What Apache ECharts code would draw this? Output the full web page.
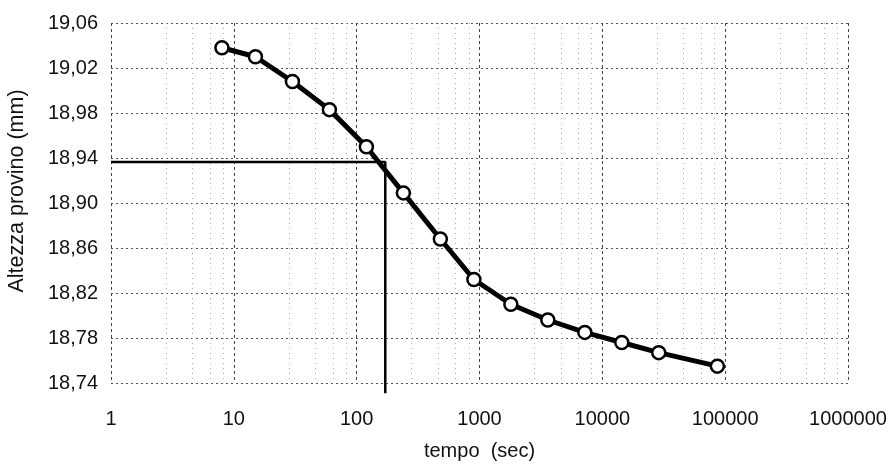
<!DOCTYPE html>
<html><head><meta charset="utf-8">
<script src="https://cdn.jsdelivr.net/npm/echarts@6/dist/echarts.min.js"></script>
<style>html,body{margin:0;padding:0;background:#fff}#c{width:890px;height:466px}</style>
</head><body><div id="c"></div>
<script>
// tempo (sec)
var times = [8, 15, 30, 60, 120, 240, 480, 900, 1800, 3600, 7200, 14400, 28800, 86400];
// Altezza provino (mm)
var heights = [19.038, 19.030, 19.008, 18.983, 18.950, 18.909, 18.868, 18.832, 18.810, 18.796, 18.785, 18.776, 18.767, 18.755];
// construction lines (t50 reading)
var refX = [1, 171, 171];
var refY = [18.9365, 18.9365, 18.731];

var chart = echarts.init(document.getElementById('c'));
var font = '"Liberation Sans", Arial, sans-serif';
chart.setOption({
  animation: false,
  backgroundColor: '#fff',
  grid: {left: 111, right: 42, top: 23, bottom: 83, outerBoundsMode: 'none', containLabel: false},
  xAxis: {
    type: 'log', logBase: 10, min: 1, max: 1000000,
    name: 'tempo  (sec)', nameLocation: 'middle', nameGap: 58,
    nameTextStyle: {fontFamily: font, fontSize: 20, color: '#111'},
    axisLine: {show: false},
    axisTick: {show: false},
    axisLabel: {fontFamily: font, fontSize: 20, color: '#111', margin: 26,
      formatter: function (v) { return String(Math.round(v)); }},
    splitLine: {show: true, lineStyle: {color: '#444', type: [3, 3], width: 1}},
    minorTick: {show: false, splitNumber: 5},
    minorSplitLine: {show: true, lineStyle: {color: '#aaa', type: [1, 4], width: 1}}
  },
  yAxis: {
    type: 'value', min: 18.74, max: 19.06, interval: 0.04,
    name: 'Altezza provino (mm)', nameLocation: 'middle', nameGap: 83,
    nameTextStyle: {fontFamily: font, fontSize: 21.5, color: '#111', padding: [0, 0, 0, 24]},
    axisLine: {show: false},
    axisTick: {show: false},
    axisLabel: {fontFamily: font, fontSize: 20, color: '#111', margin: 13,
      formatter: function (v) { return v.toFixed(2).replace('.', ','); }},
    splitLine: {show: true, lineStyle: {color: '#555', type: [2, 3], width: 1}}
  },
  series: [
    {
      type: 'line',
      data: refX.map(function (x, i) { return [x, refY[i]]; }),
      symbol: 'none', clip: false,
      lineStyle: {color: '#000', width: 2.5},
      z: 2
    },
    {
      type: 'line',
      data: times.map(function (t, i) { return [t, heights[i]]; }),
      symbol: 'circle', symbolSize: 13,
      itemStyle: {color: '#fff', borderColor: '#000', borderWidth: 2.5},
      lineStyle: {color: '#000', width: 5},
      z: 3
    }
  ]
});
</script></body></html>
